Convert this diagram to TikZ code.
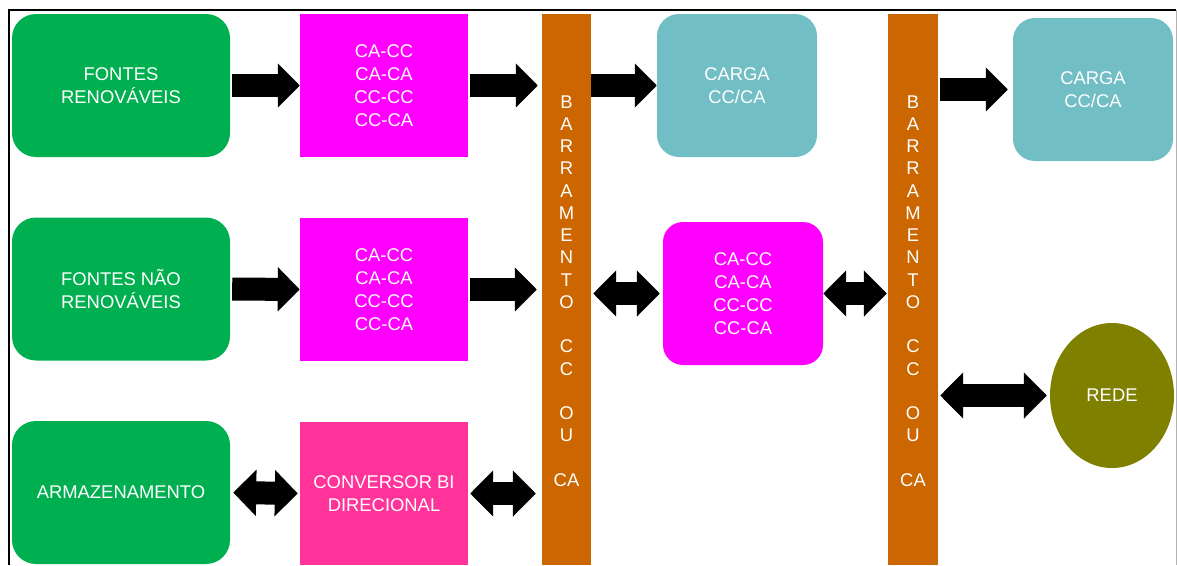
\documentclass[tikz,border=0pt]{standalone}
\usepackage{fontspec}
\setmainfont{Liberation Sans}
\usetikzlibrary{arrows.meta,shapes.geometric}
\definecolor{cgreen}{RGB}{0,176,80}
\definecolor{cmag}{RGB}{255,0,255}
\definecolor{cpink}{RGB}{255,51,153}
\definecolor{corange}{RGB}{204,102,0}
\definecolor{cteal}{RGB}{114,190,197}
\definecolor{colive}{RGB}{128,128,0}
\tikzset{
  box/.style={inner sep=0pt, align=center, text=white,
    font=\fontsize{18.4}{22.8}\selectfont},
  greenbox/.style={box, fill=cgreen, rounded corners=24pt, minimum width=218pt, minimum height=143pt},
  magbox/.style={box, fill=cmag, minimum width=168pt, minimum height=143pt},
  tealbox/.style={box, fill=cteal, rounded corners=22pt, minimum width=160pt, minimum height=143pt},
  barbox/.style={fill=corange, inner sep=0pt, minimum width=49pt, minimum height=551pt},
  bartext/.style={box, font=\fontsize{18.4}{22.25}\selectfont},
  fat/.style={line width=23pt, black, -{Triangle[length=22pt,width=43pt]}},
  fatboth/.style={line width=23pt, black, {Triangle[length=23pt,width=45pt]}-{Triangle[length=23pt,width=45pt]}},
}
\begin{document}
\begin{tikzpicture}[x=1pt,y=-1pt]
\useasboundingbox (0,0) rectangle (1177,565);
% frame
\draw[black, line width=1.5pt] (9,565) -- (9,10) -- (1176,10);
\draw[black!30, line width=1pt] (1176,10) -- (1176,565);
% nodes
\node[greenbox] (g1) at (121,85.5) {FONTES\\RENOVÁVEIS};
\node[greenbox] (g2) at (121,289) {FONTES NÃO\\RENOVÁVEIS};
\node[greenbox] (g3) at (121,492.5) {ARMAZENAMENTO};
\node[magbox] (m1) at (384,85.5) {CA-CC\\CA-CA\\CC-CC\\CC-CA};
\node[magbox] (m2) at (384,289.5) {CA-CC\\CA-CA\\CC-CC\\CC-CA};
\node[magbox, fill=cpink] (pk) at (384,493.5) {CONVERSOR BI\\DIRECIONAL};
\node[barbox] (b1) at (566.5,289.5) {};
\node[barbox, minimum width=50pt] (b2) at (913,289.5) {};
\node[bartext] (bt1) at (566.5,291) {B\\A\\R\\R\\A\\M\\E\\N\\T\\O\\\mbox{}\\C\\C\\\mbox{}\\O\\U\\\mbox{}\\CA};
\node[bartext] (bt2) at (913,291) {B\\A\\R\\R\\A\\M\\E\\N\\T\\O\\\mbox{}\\C\\C\\\mbox{}\\O\\U\\\mbox{}\\CA};
\node[tealbox] (t1) at (737,85.5) {CARGA\\CC/CA};
\node[tealbox] (t2) at (1093,89.5) {CARGA\\CC/CA};
\node[box, fill=cmag, rounded corners=20pt, minimum width=160pt, minimum height=143pt] (m3) at (743,293.5) {CA-CC\\CA-CA\\CC-CC\\CC-CA};
\node[box, ellipse, fill=colive, minimum width=124pt, minimum height=145pt] (rede) at (1112,395.5) {REDE};
% connectors
\draw[fat] ([xshift=2pt]g1.east) -- (m1.west);
\draw[fat] ([xshift=2pt]m1.east) -- ([xshift=-4pt]b1.west |- m1.east);
\draw[fat] (b1.east |- t1.west) -- (t1.west);
\draw[fat] ([xshift=2pt]b2.east |- t2.west) -- ([xshift=-5pt]t2.west);
\draw[fat] ([xshift=2pt]g2.east) -- (m2.west);
\draw[fat] ([xshift=2pt]m2.east) -- ([xshift=-5pt]b1.west |- m2.east);
\draw[fatboth] ([xshift=2pt]b1.east |- m3.west) -- ([xshift=-3pt]m3.west);
\draw[fatboth] (m3.east) -- ([xshift=-1pt]b2.west |- m3.east);
\draw[fatboth] ([xshift=2pt]b2.east |- rede.west) -- ([xshift=-3pt]rede.west);
\draw[fatboth] ([xshift=3pt]g3.east) -- ([xshift=-2pt]pk.west);
\draw[fatboth] ([xshift=2pt]pk.east) -- ([xshift=-6pt]b1.west |- pk.east);
\end{tikzpicture}
\end{document}
